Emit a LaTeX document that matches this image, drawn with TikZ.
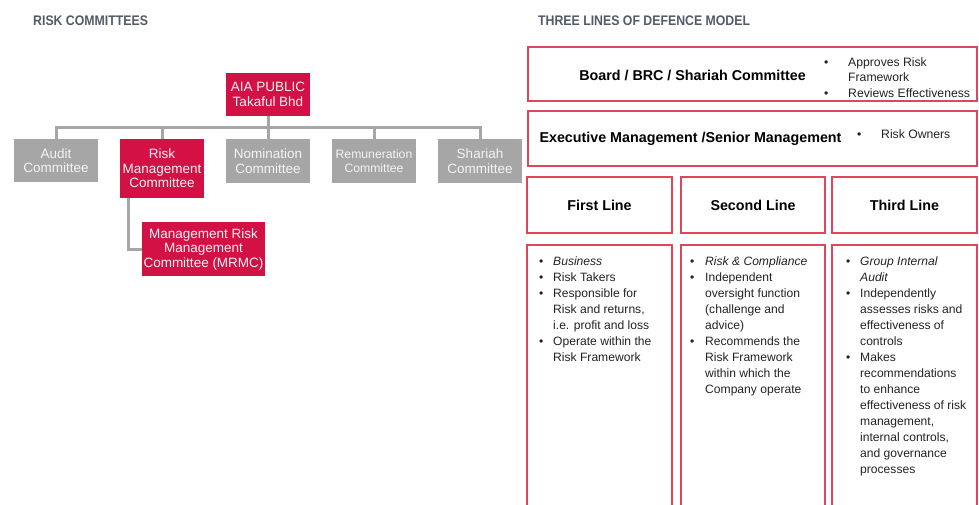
\documentclass[tikz,border=0pt]{standalone}
\usepackage{fontspec}
\setmainfont{Liberation Sans}
\definecolor{aiared}{HTML}{D31145}
\definecolor{boxgrey}{HTML}{A6A6A6}
\definecolor{linegrey}{HTML}{A6A6A6}
\definecolor{framered}{HTML}{E2445E}
\definecolor{titlegrey}{HTML}{525B66}
\definecolor{bodytext}{HTML}{222222}
\definecolor{boxtext}{HTML}{F4F4F4}
\newcommand\bu{\makebox[14pt][l]{\textbullet}}
\newcommand\ind{\hspace*{14pt}}
\newcommand\bbu{\makebox[24pt][l]{\textbullet}}
\tikzset{
  treebox/.style={minimum width=84pt, inner sep=0pt, align=center,
    font=\fontsize{13.5}{14.5}\selectfont, text=boxtext},
  redbox/.style={treebox, fill=aiared},
  greybox/.style={treebox, fill=boxgrey},
  conn/.style={draw=linegrey, line width=3pt},
  framebox/.style={draw=framered, line width=1.6pt, inner sep=0pt},
  headtxt/.style={font=\bfseries\fontsize{14.3}{16}\selectfont, text=black, inner sep=0pt},
  bodytxt/.style={font=\fontsize{12.1}{16}\selectfont, text=bodytext, inner sep=0pt, anchor=base west},
  sidetxt/.style={font=\fontsize{12.2}{15.5}\selectfont, text=bodytext, inner sep=0pt, anchor=base west},
  titletxt/.style={font=\bfseries\fontsize{12.3}{14}\selectfont, text=titlegrey, inner sep=0pt, anchor=base west}
}
\begin{document}
\begin{tikzpicture}[x=1pt,y=-1pt]
\useasboundingbox (0,0) rectangle (979,504);
\clip (0,0) rectangle (979,504);

% titles
\node[titletxt] (ttl1) at (33,25) {\scalebox{1}[1.13]{RISK COMMITTEES}};
\node[titletxt] (ttl2) at (538,25) {\scalebox{1}[1.13]{THREE LINES OF DEFENCE MODEL}};

% ---------- risk committees tree ----------
\node[redbox, minimum height=43pt] (aia) at (268,94.5) {AIA PUBLIC\\Takaful Bhd};
\node[greybox, minimum height=43pt] (audit) at (56,160.5) {Audit\\Committee};
\node[redbox, minimum height=59pt] (rmc) at (162,168.5) {Risk\\Management\\Committee};
\node[greybox, minimum height=44pt] (nom) at (268,161) {Nomination\\Committee};
\node[greybox, minimum height=44pt, font=\fontsize{12.2}{14}\selectfont] (rem) at (374,161) {Remuneration\\Committee};
\node[greybox, minimum height=44pt] (sha) at (480,161) {Shariah\\Committee};
\node[redbox, minimum width=123pt, minimum height=54pt] (mrmc) at (203.5,249) {Management Risk\\Management\\Committee (MRMC)};

\coordinate (bar) at (268,127);
\draw[conn] (aia.south) -- (bar);
\draw[conn] (audit.north) -- (audit.north |- bar) -- (sha.north |- bar) -- (sha.north);
\draw[conn] (rmc.north) -- (rmc.north |- bar);
\draw[conn] (nom.north) -- (nom.north |- bar);
\draw[conn] (rem.north) -- (rem.north |- bar);
\coordinate (elb) at (128,198);
\draw[conn] (elb) |- (mrmc.west);

% ---------- three lines of defence ----------
\node[framebox, minimum width=449pt, minimum height=54pt] (board) at (752.5,74) {};
\node[headtxt] (boardt) at (692.5,75) {Board / BRC / Shariah Committee};
\node[sidetxt] (boardb) at (824,66) {\parbox[t]{150pt}{\bbu Approves Risk\\ \hspace*{24pt}Framework\\ \bbu Reviews Effectiveness}};

\node[framebox, minimum width=449pt, minimum height=55pt] (exec) at (752.5,138.5) {};
\node[headtxt] (exect) at (690.5,138.5) {Executive Management /Senior Management};
\node[sidetxt] (execb) at (857,138.5) {\bbu Risk Owners};

\node[framebox, headtxt, minimum width=145pt, minimum height=56pt] (h1) at (599.5,205) {First Line};
\node[framebox, headtxt, minimum width=144pt, minimum height=56pt] (h2) at (753,205) {Second Line};
\node[framebox, headtxt, minimum width=145pt, minimum height=56pt] (h3) at (904.5,205) {Third Line};

\node[inner sep=0pt, minimum width=145pt, minimum height=262pt] (c1) at (599.5,376) {};
\node[inner sep=0pt, minimum width=144pt, minimum height=262pt] (c2) at (753,376) {};
\node[inner sep=0pt, minimum width=145pt, minimum height=262pt] (c3) at (904.5,376) {};
\foreach \c in {c1,c2,c3}
  \draw[draw=framered, line width=1.6pt] (\c.south west) -- (\c.north west) -- (\c.north east) -- (\c.south east);

\node[bodytxt] (t1) at (539,265.5) {\parbox[t]{130pt}{\bu\textit{Business}\\
 \bu Risk Takers\\
 \bu Responsible for\\
 \ind Risk and returns,\\
 \ind i.e. profit and loss\\
 \bu Operate within the\\
 \ind Risk Framework}};
\node[bodytxt] (t2) at (690,265.5) {\parbox[t]{130pt}{\makebox[15pt][l]{\textbullet}\textit{Risk \& Compliance}\\
 \makebox[15pt][l]{\textbullet}Independent\\
 \hspace*{15pt}oversight function\\
 \hspace*{15pt}(challenge and\\
 \hspace*{15pt}advice)\\
 \makebox[15pt][l]{\textbullet}Recommends the\\
 \hspace*{15pt}Risk Framework\\
 \hspace*{15pt}within which the\\
 \hspace*{15pt}Company operate}};
\node[bodytxt] (t3) at (846,265.5) {\parbox[t]{130pt}{\bu\textit{Group Internal}\\
 \ind\textit{Audit}\\
 \bu Independently\\
 \ind assesses risks and\\
 \ind effectiveness of\\
 \ind controls\\
 \bu Makes\\
 \ind recommendations\\
 \ind to enhance\\
 \ind effectiveness of risk\\
 \ind management,\\
 \ind internal controls,\\
 \ind and governance\\
 \ind processes}};
\end{tikzpicture}
\end{document}
